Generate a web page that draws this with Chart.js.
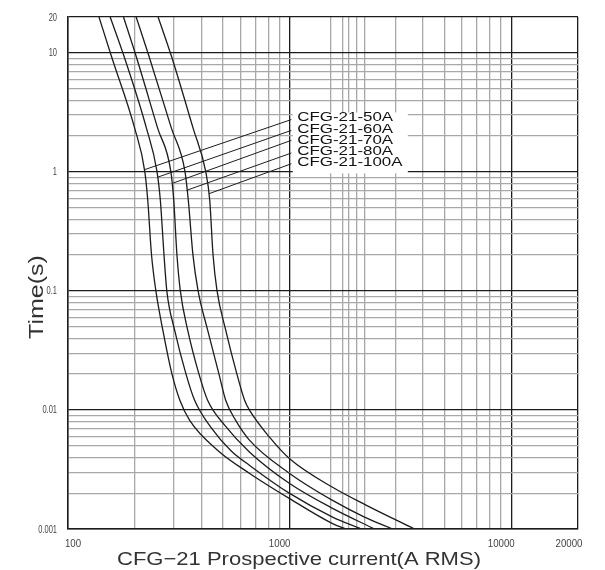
<!DOCTYPE html>
<html>
<head>
<meta charset="utf-8">
<script src="https://cdn.jsdelivr.net/npm/chart.js@4.4.1/dist/chart.umd.min.js"></script>
<style>
  html, body { margin: 0; padding: 0; background: #fff; }
  #wrap { width: 605px; height: 570px; }
</style>
</head>
<body>
<div id="wrap"><canvas id="chartCurvas" width="605" height="570"></canvas></div>
<script>
// Curvas tiempo-corriente (corriente en A RMS, tiempo en s)
const nombres = ['CFG-21-50A', 'CFG-21-60A', 'CFG-21-70A', 'CFG-21-80A', 'CFG-21-100A'];

const corriente50 = [138, 157, 200, 222, 229, 238, 249, 268, 294, 320, 354, 474, 660, 1000, 1562, 1801];
const tiempo50 = [20, 9.35, 2.32, 1.01, 0.577, 0.203, 0.101, 0.0466, 0.0203, 0.012, 0.00817, 0.00457, 0.00293, 0.0018, 0.00111, 0.001];

const corriente60 = [155, 179, 226, 252, 261, 271, 279, 303, 340, 373, 445, 542, 660, 1000, 1562, 2104];
const tiempo60 = [20, 9.35, 2.32, 1.01, 0.577, 0.203, 0.101, 0.0466, 0.0203, 0.012, 0.007, 0.00457, 0.00342, 0.00199, 0.00126, 0.001];

const corriente70 = [178, 203, 254, 291, 300, 310, 321, 347, 389, 427, 510, 660, 1000, 1562, 2415];
const tiempo70 = [20, 9.35, 2.32, 1.01, 0.577, 0.203, 0.101, 0.0466, 0.0203, 0.012, 0.00741, 0.00442, 0.00241, 0.00149, 0.001];

const corriente80 = [203, 232, 293, 337, 349, 366, 386, 427, 479, 515, 571, 660, 1000, 1562, 2177, 2911];
const tiempo80 = [20, 9.35, 2.32, 1.01, 0.577, 0.203, 0.101, 0.0466, 0.0203, 0.012, 0.00817, 0.00555, 0.00293, 0.00174, 0.00126, 0.001];

const corriente100 = [255, 293, 367, 418, 436, 451, 470, 515, 577, 627, 660, 813, 1000, 1562, 2222, 3656];
const tiempo100 = [20, 9.35, 2.32, 1.01, 0.577, 0.203, 0.101, 0.0466, 0.0203, 0.012, 0.00991, 0.00588, 0.00389, 0.00224, 0.00158, 0.001];

// Líneas guía de las etiquetas: [inicio junto al texto, punto en la curva]
const guiaCorriente = [[1018, 222], [1018, 255], [1018, 298], [1018, 343], [1018, 433]];
const guiaTiempo = [[2.75, 1.045], [2.23, 0.905], [1.84, 0.805], [1.44, 0.70], [1.17, 0.656]];

// Marcas de los ejes
const ticksX = [100, 200, 300, 400, 500, 600, 700, 800, 900, 1000, 1530, 1730, 1840, 2000, 2180,
                3000, 4000, 5000, 6000, 7000, 8000, 9000, 10000, 20000];
const etiquetasX = [100, 1000, 10000, 20000];
const etiquetasY = [20, 10, 1, 0.1, 0.01, 0.001];

const ticksY = [];
[0.001, 0.01, 0.1, 1].forEach(d => {
    for (let k = 1; k <= 9; k++) ticksY.push(+(d * k).toPrecision(3));
});
ticksY.push(10, 20);

const corrientes = [corriente50, corriente60, corriente70, corriente80, corriente100];
const tiempos = [tiempo50, tiempo60, tiempo70, tiempo80, tiempo100];

const puntos = (xs, ys) => xs.map((v, i) => ({ x: v, y: ys[i] }));

const fuente = '"Liberation Sans", Arial, sans-serif';
const oscuro = '#1c1c1c';
const gris = '#a8a8a8';

// Texto estirado horizontalmente (el original usa una tipografía ancha)
const texto = (ctx, str, x, y, size, sx, align, rot) => {
    ctx.save();
    ctx.translate(x, y);
    if (rot) ctx.rotate(rot);
    ctx.scale(sx, 1);
    ctx.font = size + 'px ' + fuente;
    ctx.textAlign = align;
    ctx.textBaseline = 'alphabetic';
    ctx.fillText(str, 0, 0);
    ctx.restore();
};

const desplazaX = { 100: 5, 1000: -10, 10000: -10, 20000: -9 };

const anotaciones = {
    id: 'anotaciones',
    beforeDatasetsDraw(chart) {
        // caja blanca detrás de los nombres
        const { ctx, scales: { x, y } } = chart;
        const x0 = x.getPixelForValue(1083);
        const y0 = y.getPixelForValue(2.65);
        ctx.save();
        ctx.fillStyle = '#fff';
        ctx.fillRect(x0 - 4.5, y0 - 9, 115, y.getPixelForValue(1) + 1.5 - (y0 - 9));
        ctx.restore();
    },
    afterDraw(chart) {
        const { ctx, chartArea: a, scales: { x, y } } = chart;

        ctx.fillStyle = '#444';
        etiquetasY.forEach(v => {
            texto(ctx, String(v), a.left - 11, y.getPixelForValue(v) + 3.5, 10, 0.75, 'right');
        });
        etiquetasX.forEach(v => {
            texto(ctx, String(v), x.getPixelForValue(v) + desplazaX[v], a.bottom + 18, 11, 0.88, 'center');
        });

        // nombres de las curvas
        ctx.fillStyle = '#111';
        const x0 = x.getPixelForValue(1083);
        const y0 = y.getPixelForValue(2.65);
        nombres.forEach((n, i) => texto(ctx, n, x0, y0 + i * 11.25, 13, 1.3, 'left'));

        // títulos de los ejes
        ctx.fillStyle = '#333';
        texto(ctx, 'CFG\u221221 Prospective current(A RMS)', a.left + 49, a.bottom + 36, 18.5, 1.19, 'left');
        texto(ctx, 'Time(s)', 43, 297, 20, 1.25, 'center', -Math.PI / 2);
    }
};

const datasets = corrientes.map((c, i) => ({
    label: nombres[i],
    data: puntos(c, tiempos[i]),
    showLine: true,
    borderColor: oscuro,
    borderWidth: 1.3,
    pointRadius: 0,
    cubicInterpolationMode: 'monotone',
    fill: false
}));

guiaCorriente.forEach((g, i) => {
    datasets.push({
        label: 'guia ' + nombres[i],
        data: puntos(g, guiaTiempo[i]),
        showLine: true,
        borderColor: oscuro,
        borderWidth: 1,
        pointRadius: 0,
        tension: 0,
        fill: false
    });
});

const mayorX = v => etiquetasX.includes(v);
const mayorY = v => etiquetasY.includes(v);

const canvas = document.getElementById('chartCurvas');
const chartCurvas = new Chart(canvas.getContext('2d'), {
    type: 'scatter',
    data: { datasets: datasets },
    options: {
        responsive: false,
        animation: false,
        layout: { padding: { top: 17, right: 27, left: 0, bottom: 0 } },
        plugins: { legend: { display: false }, tooltip: { enabled: false } },
        scales: {
            x: {
                type: 'logarithmic',
                min: 100,
                max: 20000,
                bounds: 'data',
                afterBuildTicks: s => { s.ticks = ticksX.map(v => ({ value: v })); },
                afterFit: s => { s.height = 41; },
                ticks: { display: false, autoSkip: false },
                grid: {
                    drawTicks: false,
                    color: c => mayorX(c.tick.value) ? oscuro : gris,
                    lineWidth: 1.3
                },
                border: { color: oscuro, width: 1.5 }
            },
            y: {
                type: 'logarithmic',
                min: 0.001,
                max: 20,
                bounds: 'data',
                afterBuildTicks: s => { s.ticks = ticksY.map(v => ({ value: v })); },
                afterFit: s => { s.width = 68; },
                ticks: { display: false, autoSkip: false },
                grid: {
                    drawTicks: false,
                    color: c => mayorY(c.tick.value) ? oscuro : gris,
                    lineWidth: 1.3
                },
                border: { color: oscuro, width: 1.5 }
            }
        }
    },
    plugins: [anotaciones]
});
</script>
</body>
</html>
